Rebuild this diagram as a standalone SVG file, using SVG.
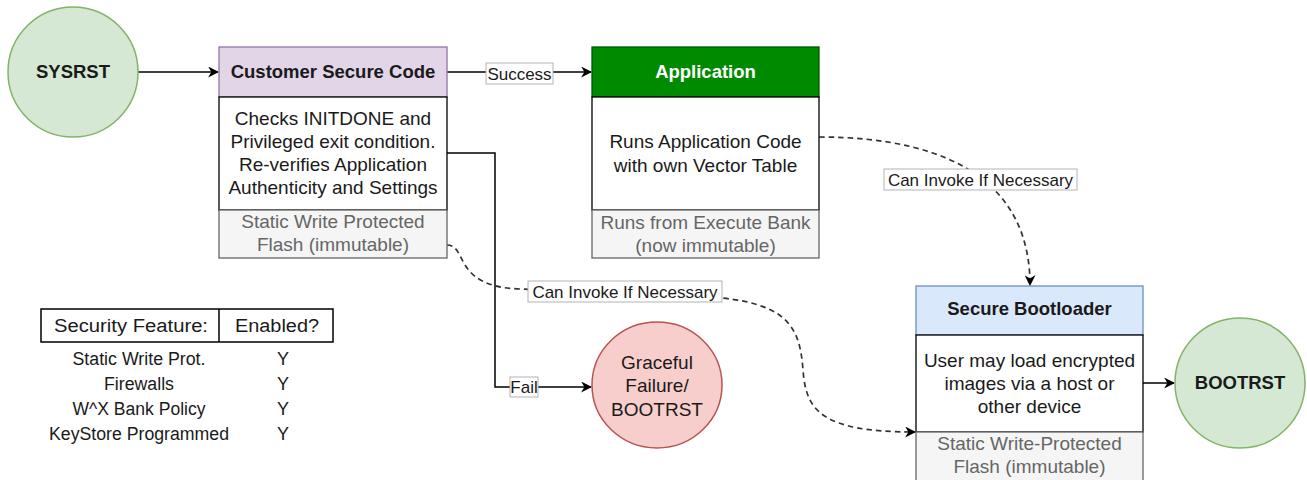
<svg xmlns="http://www.w3.org/2000/svg" width="1307" height="480" viewBox="0 0 1307 480">
<style>
text{font-family:"Liberation Sans",Arial,Helvetica,sans-serif;text-anchor:middle;fill:#1a1a1a}
.b{font-weight:bold;font-size:18.5px}
.t{font-size:19px}
.g{font-size:19px;fill:#666666}
.lbl{font-size:17px}
.tb{font-size:18px;fill:#1a1a1a}
.w{fill:#ffffff;stroke:#000000;stroke-width:1.3}
.gr{fill:#f5f5f5;stroke:#666666;stroke-width:1.3}
.c{fill:none;stroke:#000000;stroke-width:1.5}
.d{fill:none;stroke:#333333;stroke-width:1.7;stroke-dasharray:5.5 4}
.lb{fill:#ffffff;stroke:#b3b3b3;stroke-width:1}
</style>
<defs>
<marker id="ah" viewBox="0 0 10 10" refX="9" refY="5" markerWidth="11" markerHeight="11" markerUnits="userSpaceOnUse" orient="auto">
<path d="M0,0 L10,5 L0,10 L3,5 z" fill="#000000"/>
</marker>
</defs>

<g id="connectors">
<line class="c" x1="138" y1="72" x2="218" y2="72" marker-end="url(#ah)"/>
<line class="c" x1="447" y1="72" x2="591" y2="72" marker-end="url(#ah)"/>
<polyline class="c" points="447,153 495,153 495,387 591,387" marker-end="url(#ah)"/>
<line class="c" x1="1143" y1="383" x2="1174" y2="383" marker-end="url(#ah)"/>
<path class="d" d="M819,137 C960,137 1030,190 1030,285" marker-end="url(#ah)"/>
<path class="d" d="M447,245 C468,245 452,287 520,289 L722,298 C790,305 800,330 803,370 C806,410 820,432 915,432" marker-end="url(#ah)"/>
<rect class="lb" x="486" y="63" width="67" height="21"/>
<text class="lbl" x="519.5" y="80">Success</text>
<rect class="lb" x="510" y="377" width="28" height="20"/>
<text class="lbl" x="524" y="393">Fail</text>
<rect class="lb" x="884" y="169" width="193" height="21"/>
<text class="lbl" x="980.5" y="186">Can Invoke If Necessary</text>
<rect class="lb" x="528" y="281" width="194" height="21"/>
<text class="lbl" x="625" y="298">Can Invoke If Necessary</text>
</g>

<g id="sysrst">
<circle cx="73" cy="72" r="65" fill="#d5e8d4" stroke="#82b366" stroke-width="1.5"/>
<text class="b" x="73" y="78">SYSRST</text>
</g>

<g id="customer-secure-code">
<rect x="219" y="47" width="228" height="50" fill="#e1d5e7" stroke="#9673a6" stroke-width="1.3"/>
<text class="b" x="333" y="78">Customer Secure Code</text>
<rect class="w" x="219" y="97" width="228" height="113"/>
<text class="t" x="333" y="125">Checks INITDONE and</text>
<text class="t" x="333" y="148">Privileged exit condition.</text>
<text class="t" x="333" y="171">Re-verifies Application</text>
<text class="t" x="333" y="194">Authenticity and Settings</text>
<rect class="gr" x="219" y="210" width="228" height="48"/>
<text class="g" x="333" y="228">Static Write Protected</text>
<text class="g" x="333" y="251">Flash (immutable)</text>
</g>

<g id="application">
<rect x="592" y="47" width="227" height="50" fill="#008a00" stroke="#005700" stroke-width="1.3"/>
<text class="b" x="705.5" y="78" style="fill:#ffffff">Application</text>
<rect class="w" x="592" y="97" width="227" height="113"/>
<text class="t" x="705.5" y="148">Runs Application Code</text>
<text class="t" x="705.5" y="172">with own Vector Table</text>
<rect class="gr" x="592" y="210" width="227" height="48"/>
<text class="g" x="705.5" y="229">Runs from Execute Bank</text>
<text class="g" x="705.5" y="252">(now immutable)</text>
</g>

<g id="graceful-failure">
<ellipse cx="657" cy="385" rx="65" ry="63" fill="#f8cecc" stroke="#b85450" stroke-width="1.5"/>
<text class="t" x="657" y="369">Graceful</text>
<text class="t" x="657" y="392">Failure/</text>
<text class="t" x="657" y="416">BOOTRST</text>
</g>

<g id="secure-bootloader">
<rect x="916" y="286" width="227" height="49" fill="#dae8fc" stroke="#6c8ebf" stroke-width="1.3"/>
<text class="b" x="1029.5" y="315">Secure Bootloader</text>
<rect class="w" x="916" y="335" width="227" height="97"/>
<text class="t" x="1029.5" y="367">User may load encrypted</text>
<text class="t" x="1029.5" y="390">images via a host or</text>
<text class="t" x="1029.5" y="413">other device</text>
<rect class="gr" x="916" y="432" width="227" height="52"/>
<text class="g" x="1029.5" y="450">Static Write-Protected</text>
<text class="g" x="1029.5" y="473">Flash (immutable)</text>
</g>

<g id="bootrst">
<circle cx="1240" cy="383" r="65" fill="#d5e8d4" stroke="#82b366" stroke-width="1.5"/>
<text class="b" x="1240" y="389">BOOTRST</text>
</g>

<g id="security-table">
<rect x="41" y="309" width="292" height="33" fill="#ffffff" stroke="#000000" stroke-width="1.5"/>
<line x1="219" y1="309" x2="219" y2="342" stroke="#000000" stroke-width="1.5"/>
<text class="tb" x="131" y="332" textLength="154" lengthAdjust="spacingAndGlyphs">Security Feature:</text>
<text class="tb" x="277" y="332" textLength="84" lengthAdjust="spacingAndGlyphs">Enabled?</text>
<text class="tb" x="139" y="365" textLength="133" lengthAdjust="spacingAndGlyphs">Static Write Prot.</text>
<text class="tb" x="139" y="390" textLength="70" lengthAdjust="spacingAndGlyphs">Firewalls</text>
<text class="tb" x="139" y="415" textLength="133" lengthAdjust="spacingAndGlyphs">W^X Bank Policy</text>
<text class="tb" x="139" y="440" textLength="180" lengthAdjust="spacingAndGlyphs">KeyStore Programmed</text>
<text class="tb" x="283" y="365">Y</text>
<text class="tb" x="283" y="390">Y</text>
<text class="tb" x="283" y="415">Y</text>
<text class="tb" x="283" y="440">Y</text>
</g>
</svg>
